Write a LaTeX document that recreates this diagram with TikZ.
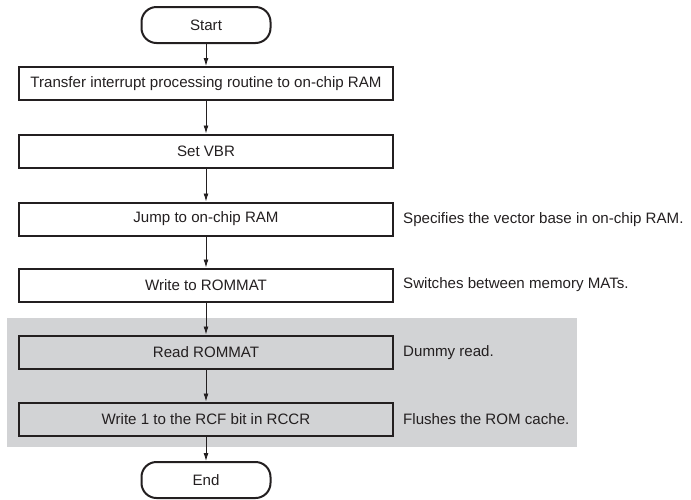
\documentclass[tikz,border=0pt]{standalone}
\usepackage{fontspec}
\setmainfont{Liberation Sans}
\usetikzlibrary{arrows.meta,positioning}
\definecolor{ink}{HTML}{231F20}
\definecolor{panel}{HTML}{D2D3D5}

\begin{document}
\begin{tikzpicture}[x=1pt,y=-1pt,
    proc/.style={draw=ink,line width=2pt,minimum width=374pt,minimum height=33pt,inner sep=0pt,text=ink,font=\fontsize{15.1}{17}\selectfont},
    term/.style={proc,minimum width=129pt,minimum height=36pt,rounded corners=15pt},
    note/.style={anchor=west,inner sep=0pt,text=ink,font=\fontsize{15.1}{17}\selectfont},
    flow/.style={ink,line width=0.9pt,-{Latex[length=8pt,width=5pt]}}]
  \useasboundingbox (0,0) rectangle (691,499);

  % shaded part: cache flush
  \fill[panel] (7,318) rectangle (577,447);

  % terminals and steps
  \node[term] (start) at (206,25) {Start};
  \node[proc] (xfer) at (206,83.5) {Transfer interrupt processing routine to on-chip RAM};
  \node[proc] (vbr) at (206,151) {Set VBR};
  \node[proc] (jump) at (206,219) {Jump to on-chip RAM};
  \node[proc] (wrmat) at (206,285) {Write to ROMMAT};
  \node[proc] (rdmat) at (206,352) {Read ROMMAT};
  \node[proc] (rcf) at (206,419) {Write 1 to the RCF bit in RCCR};
  \node[term] (stop) at (206,480) {End};

  % side notes
  \node[note] (n1) at (403,220) {Specifies the vector base in on-chip RAM.};
  \node[note] (n2) at (403,285) {Switches between memory MATs.};
  \node[note] (n3) at (403,353) {Dummy read.};
  \node[note] (n4) at (403,419) {Flushes the ROM cache.};

  % flow
  \draw[flow] (start) -- (xfer);
  \draw[flow] (xfer) -- (vbr);
  \draw[flow] (vbr) -- (jump);
  \draw[flow] (jump) -- (wrmat);
  \draw[flow] (wrmat) -- (rdmat);
  \draw[flow] (rdmat) -- (rcf);
  \draw[flow] (rcf) -- (stop);
\end{tikzpicture}
\end{document}
